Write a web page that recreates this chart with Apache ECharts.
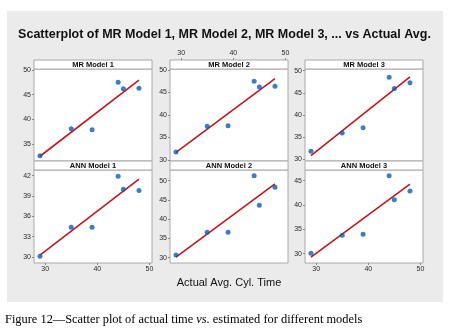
<!DOCTYPE html>
<html>
<head>
<meta charset="utf-8">
<style>
html, body { margin: 0; padding: 0; background: #fff; }
#chartmain { width: 449px; height: 334px; }
</style>
<script src="https://cdn.jsdelivr.net/npm/echarts@6/dist/echarts.min.js"></script>
</head>
<body>
<div id="chartmain"></div>
<script>
// data
var actualTime = [29, 35, 39, 44, 45, 48];
var mrModel1 = [32.6, 38.1, 37.9, 47.5, 46.2, 46.3];
var mrModel2 = [31.8, 37.5, 37.6, 47.5, 46.2, 46.4];
var mrModel3 = [31.8, 35.9, 37.1, 48.5, 46.0, 47.3];
var annModel1 = [30.1, 34.4, 34.4, 41.9, 40.0, 39.8];
var annModel2 = [30.7, 36.6, 36.6, 51.3, 43.6, 48.3];
var annModel3 = [30.1, 33.8, 34.0, 46.0, 41.1, 42.9];

var panelNames = ['MR Model 1', 'MR Model 2', 'MR Model 3', 'ANN Model 1', 'ANN Model 2', 'ANN Model 3'];
var xTicks = [30, 40, 50];
var yTicks = [
	[35, 40, 45, 50],
	[30, 35, 40, 45, 50],
	[30, 35, 40, 45, 50],
	[30, 33, 36, 39, 42],
	[30, 35, 40, 45, 50],
	[30, 35, 40, 45]
];

var models = [mrModel1, mrModel2, mrModel3, annModel1, annModel2, annModel3];
// axis ranges per panel (Minitab pads them)
var yRange = [[31.55, 50.2], [29.78, 50.22], [29.6, 50.38], [29.12, 42.84], [28.63, 52.77], [28.1, 47.19]];
var xRange = [27.85, 50.5];

// layout
var colLeft = [34, 170, 305], colW = 118;
var rowTop = [69, 170], rowH = [92, 93];
var stripH = 9;

// least squares line over the data range
function fitLine(xs, ys) {
	var n = xs.length, mx = 0, my = 0, sxx = 0, sxy = 0;
	for (var i = 0; i < n; i++) { mx += xs[i]; my += ys[i]; }
	mx /= n; my /= n;
	for (var i = 0; i < n; i++) {
		sxx += (xs[i] - mx) * (xs[i] - mx);
		sxy += (xs[i] - mx) * (ys[i] - my);
	}
	var b = sxy / sxx, a = my - b * mx;
	var x0 = Math.min.apply(null, xs), x1 = Math.max.apply(null, xs);
	return [[x0, a + b * x0], [x1, a + b * x1]];
}

var labelStyle = { fontSize: 7, color: '#2a2a2a', fontFamily: 'Liberation Sans' };
var grids = [], xAxes = [], yAxes = [], series = [];
var graphics = [{
	type: 'rect', z: -10,
	shape: { x: 7, y: 11, width: 436, height: 291 },
	style: { fill: '#ebebeb' }
}];

for (var i = 0; i < 6; i++) {
	var r = Math.floor(i / 3), c = i % 3;
	grids.push({
		left: colLeft[c], top: rowTop[r], width: colW, height: rowH[r],
		show: true, backgroundColor: '#fff', borderColor: '#a8a8a8', borderWidth: 1
	});
	var topLabels = (r === 0 && c === 1);
	var bottomLabels = (r === 1 && c !== 1);
	xAxes.push({
		gridIndex: i, type: 'value', min: xRange[0], max: xRange[1],
		position: topLabels ? 'top' : 'bottom',
		offset: topLabels ? stripH : 0,
		splitLine: { show: false },
		axisLine: { show: false },
		axisTick: { show: topLabels || bottomLabels, length: 2, customValues: xTicks, lineStyle: { color: '#888' } },
		axisLabel: Object.assign({ show: topLabels || bottomLabels, margin: 3, customValues: xTicks }, labelStyle)
	});
	yAxes.push({
		gridIndex: i, type: 'value', min: yRange[i][0], max: yRange[i][1],
		splitLine: { show: false },
		axisLine: { show: false },
		axisTick: { show: true, length: 2, customValues: yTicks[i], lineStyle: { color: '#888' } },
		axisLabel: Object.assign({ margin: 3, customValues: yTicks[i] }, labelStyle)
	});
	var pts = actualTime.map(function (x, k) { return [x, models[i][k]]; });
	series.push({
		name: panelNames[i] + ' fit', type: 'line', xAxisIndex: i, yAxisIndex: i,
		data: fitLine(actualTime, models[i]), symbol: 'none', silent: true, z: 2,
		lineStyle: { color: '#c0161b', width: 1.6 }
	});
	series.push({
		name: panelNames[i], type: 'scatter', xAxisIndex: i, yAxisIndex: i,
		data: pts, symbolSize: 5, z: 3,
		itemStyle: { color: '#0b5cb5' }
	});
	graphics.push({
		type: 'rect', z: 10,
		shape: { x: colLeft[c], y: rowTop[r] - stripH, width: colW, height: stripH },
		style: { fill: '#fff', stroke: '#a8a8a8', lineWidth: 1 }
	});
	graphics.push({
		type: 'text', z: 11,
		x: colLeft[c] + colW / 2, y: rowTop[r] - stripH / 2 + 0.5,
		style: {
			text: panelNames[i], align: 'center', verticalAlign: 'middle',
			font: 'bold 7.5px "Liberation Sans"', fill: '#111'
		}
	});
}

graphics.push({
	type: 'text', x: 229, y: 283,
	style: {
		text: 'Actual Avg. Cyl. Time', align: 'center', verticalAlign: 'middle',
		font: '11px "Liberation Sans"', fill: '#111'
	}
});
graphics.push({
	type: 'text', x: 5, y: 320,
	style: {
		text: '{a|Figure 12—Scatter plot of actual time }{i|vs.}{a| estimated for different models}',
		verticalAlign: 'middle',
		rich: {
			a: { fontSize: 12.4, fontFamily: 'Liberation Serif', color: '#2a2220' },
			i: { fontSize: 12.4, fontFamily: 'Liberation Serif', fontStyle: 'italic', color: '#2a2220' }
		}
	}
});

option = {
	backgroundColor: '#fff',
	animation: false,
	title: {
		text: 'Scatterplot of MR Model 1, MR Model 2, MR Model 3, ... vs Actual Avg.',
		left: 'center', top: 23,
		textStyle: { fontSize: 12.5, fontWeight: 'bold', color: '#111', fontFamily: 'Liberation Sans' }
	},
	grid: grids,
	xAxis: xAxes,
	yAxis: yAxes,
	series: series,
	graphic: graphics
};

var myChart = echarts.init(document.getElementById('chartmain'));
myChart.setOption(option);
</script>
</body>
</html>
